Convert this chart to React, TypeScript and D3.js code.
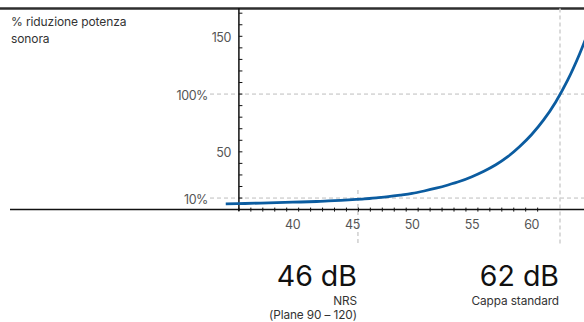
import React from "react";
import * as d3 from "d3";

const dbValues = [34.4, 36, 38, 40, 42, 43, 44, 45, 46, 47, 48, 49, 50, 51, 52, 53, 54, 55, 56, 57, 58, 59, 60, 61, 62, 63, 64, 65];
const reductionValues = [5.0, 5.3, 5.8, 6.4, 7.0, 7.5, 8.0, 8.6, 9.3, 10.2, 11.2, 12.5, 14.0, 16.1, 18.5, 21.3, 24.5, 28.5, 33.2, 38.8, 45.8, 54.6, 65, 77.6, 93, 111.8, 134.5, 161];

const xTickLabels = [40, 45, 50, 55, 60];
const yTickLabels = [
  { v: 150, label: "150" },
  { v: 100, label: "100%" },
  { v: 50, label: "50" },
  { v: 10, label: "10%" },
];
const yGuides = [100, 10];
const markers = [
  { x: 45.46, big: "46 dB", lines: ["NRS", "(Plane 90 – 120)"], top: 17 },
  { x: 62.37, big: "62 dB", lines: ["Cappa standard"], top: 174 },
];
const axisTitle = ["% riduzione potenza", "sonora"];

const W = 584;
const H = 322;
const FONT = "Inter, 'Noto Sans', sans-serif";

export default function App() {
  const x = d3.scaleLinear().domain([35.5, 64.5]).range([238.9, 238.9 + 29 * 11.95]);
  const y = d3.scaleLinear().domain([0, 174.5]).range([209.6, 8]);

  const line = d3
    .line<number>()
    .x((_, i) => x(dbValues[i]))
    .y((d) => y(d))
    .curve(d3.curveCatmullRom.alpha(0.5));

  const xMinor = d3.range(35.5, 61, 1);
  const yMinor = d3.range(10, 175, 10);
  const x0 = x(35.5);
  const y0 = y(0);

  return (
    <svg
      width={W}
      height={H}
      style={{ position: "absolute", left: 0, top: 0, background: "#fff" }}
      fontFamily={FONT}
    >
      {/* top rule */}
      <line x1={0} x2={W} y1={8.5} y2={8.5} stroke="#2e2e2e" strokeWidth={2.5} />

      {/* axis title */}
      {axisTitle.map((t, i) => (
        <text key={t} x={11} y={26 + i * 17} fontSize={12} fill="#333" letterSpacing={-0.1}>
          {t}
        </text>
      ))}

      {/* horizontal guides */}
      {yGuides.map((v) => (
        <line
          key={v}
          x1={210}
          x2={W}
          y1={y(v)}
          y2={y(v)}
          stroke="#bdbdbd"
          strokeWidth={1}
          strokeDasharray="4,3"
        />
      ))}

      {/* vertical markers */}
      {markers.map((m) => (
        <line
          key={m.big}
          x1={x(m.x)}
          x2={x(m.x)}
          y1={y(m.top)}
          y2={245}
          stroke="#d2d2d2"
          strokeWidth={1.6}
          strokeDasharray="4,3"
        />
      ))}

      {/* y axis */}
      <line x1={x0} x2={x0} y1={8} y2={211} stroke="#111" strokeWidth={1.5} />
      {yMinor.map((v) => (
        <line key={v} x1={x0} x2={x0 + 3.5} y1={y(v)} y2={y(v)} stroke="#111" strokeWidth={1} />
      ))}
      {yTickLabels.map((t) => (
        <text
          key={t.label}
          x={t.label.includes("%") ? 208 : 231}
          y={y(t.v) + 1}
          dy="0.36em"
          textAnchor="end"
          fontSize={12.5}
          fill="#555"
          letterSpacing={-0.4}
        >
          {t.label}
        </text>
      ))}

      {/* x axis */}
      <line x1={10} x2={W} y1={y0} y2={y0} stroke="#111" strokeWidth={1.5} />
      {xMinor.map((v) => (
        <line key={v} x1={x(v)} x2={x(v)} y1={y0 - 2} y2={y0 + 2} stroke="#111" strokeWidth={1} />
      ))}
      {xTickLabels.map((v) => (
        <text
          key={v}
          x={x(v)}
          y={224}
          dy="0.36em"
          textAnchor="middle"
          fontSize={12.5}
          fill="#555"
          letterSpacing={-0.4}
        >
          {v}
        </text>
      ))}

      {/* curve */}
      <path d={line(reductionValues) || ""} fill="none" stroke="#0b5ca0" strokeWidth={2.8} />

      {/* annotations */}
      {markers.map((m) => (
        <g key={m.big + "t"}>
          <text
            x={x(m.x) - 1}
            y={286}
            textAnchor="end"
            fontSize={28.5}
            fill="#111"
            letterSpacing={0}
          >
            {m.big}
          </text>
          {m.lines.map((l, i) => (
            <text
              key={l}
              x={x(m.x) - 1}
              y={304.5 + i * 14}
              textAnchor="end"
              fontSize={11.8}
              fill="#333"
              letterSpacing={-0.1}
            >
              {l}
            </text>
          ))}
        </g>
      ))}
    </svg>
  );
}
